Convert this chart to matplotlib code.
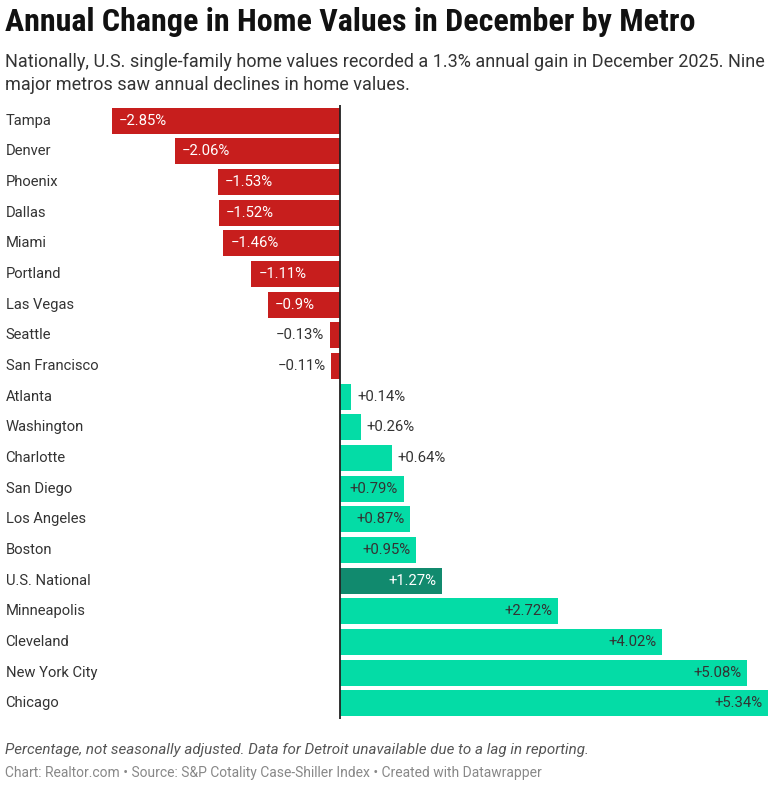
import matplotlib
matplotlib.use("Agg")
import matplotlib.pyplot as plt

# chart data
metros = ['Tampa', 'Denver', 'Phoenix', 'Dallas', 'Miami', 'Portland', 'Las Vegas',
          'Seattle', 'San Francisco', 'Atlanta', 'Washington', 'Charlotte', 'San Diego',
          'Los Angeles', 'Boston', 'U.S. National', 'Minneapolis', 'Cleveland',
          'New York City', 'Chicago']
change = [-2.85, -2.06, -1.53, -1.52, -1.46, -1.11, -0.9, -0.13, -0.11, 0.14, 0.26,
          0.64, 0.79, 0.87, 0.95, 1.27, 2.72, 4.02, 5.08, 5.34]
value_labels = ['−2.85%', '−2.06%', '−1.53%', '−1.52%', '−1.46%', '−1.11%', '−0.9%',
                '−0.13%', '−0.11%', '+0.14%', '+0.26%', '+0.64%', '+0.79%', '+0.87%',
                '+0.95%', '+1.27%', '+2.72%', '+4.02%', '+5.08%', '+5.34%']
highlight = 'U.S. National'

RED = '#c71e1d'
GREEN = '#04dca6'
DARK_GREEN = '#118a6e'
TEXT = '#333333'

plt.rcParams['font.family'] = ['Roboto', 'DejaVu Sans']

W, H = 780, 785
fig = plt.figure(figsize=(W / 100, H / 100), dpi=100)

# axes box in pixels: left/right from bar extents, top/bottom from the row grid
left, right, top, bottom = 112, 768, 105.3, 718.7
ax = fig.add_axes([left / W, 1 - bottom / H, (right - left) / W, (bottom - top) / H])

ypos = list(range(len(metros)))
colors = []
for m, v in zip(metros, change):
    if m == highlight:
        colors.append(DARK_GREEN)
    elif v < 0:
        colors.append(RED)
    else:
        colors.append(GREEN)

ax.barh(ypos, change, height=0.84, color=colors)
ax.set_xlim(min(change), max(change))
ax.set_ylim(len(metros) - 0.5, -0.5)
ax.axvline(0, color='#222222', lw=1.3)
ax.axis('off')

# value labels: inside the bar when it is long enough, outside otherwise
for y, v, lab, m in zip(ypos, change, value_labels, metros):
    inside = abs(v) >= 0.7
    if v < 0:
        if inside:
            ax.annotate(lab, (v, y), xytext=(5, 0), textcoords='offset points',
                        ha='left', va='center', color='white', fontsize=10.7)
        else:
            ax.annotate(lab, (v, y), xytext=(-4, 0), textcoords='offset points',
                        ha='right', va='center', color=TEXT, fontsize=10.7)
    else:
        if inside:
            col = 'white' if m == highlight else TEXT
            ax.annotate(lab, (v, y), xytext=(-4, 0), textcoords='offset points',
                        ha='right', va='center', color=col, fontsize=10.7)
        else:
            ax.annotate(lab, (v, y), xytext=(4, 0), textcoords='offset points',
                        ha='left', va='center', color=TEXT, fontsize=10.7)

# category names on the far left
for y, m in zip(ypos, metros):
    ax.annotate(m, (0, y), xycoords=('figure pixels', 'data'), xytext=(4, 0),
                textcoords='offset points', ha='left', va='center',
                color=TEXT, fontsize=10.6)

# title block and footer
fig.text(5 / W, 1 - 22 / H, 'Annual Change in Home Values in December by Metro',
         family=['Roboto Condensed', 'Liberation Sans Narrow', 'Roboto'],
         fontweight='bold', fontsize=23, color='#111111', va='center', ha='left')
fig.text(5 / W, 1 - 62 / H,
         'Nationally, U.S. single-family home values recorded a 1.3% annual gain in December 2025. Nine',
         fontsize=13, color='#333333', va='center', ha='left')
fig.text(5 / W, 1 - 85 / H, 'major metros saw annual declines in home values.',
         fontsize=13, color='#333333', va='center', ha='left')
fig.text(5 / W, 1 - 750 / H,
         'Percentage, not seasonally adjusted. Data for Detroit unavailable due to a lag in reporting.',
         fontsize=10.9, style='italic', color='#555555', va='center', ha='left')
fig.text(5 / W, 1 - 773 / H,
         'Chart: Realtor.com \u2022 Source: S&P Cotality Case-Shiller Index \u2022 Created with Datawrapper',
         fontsize=10, color='#888888', va='center', ha='left')

fig.savefig('out.png', dpi=100, facecolor='white')
